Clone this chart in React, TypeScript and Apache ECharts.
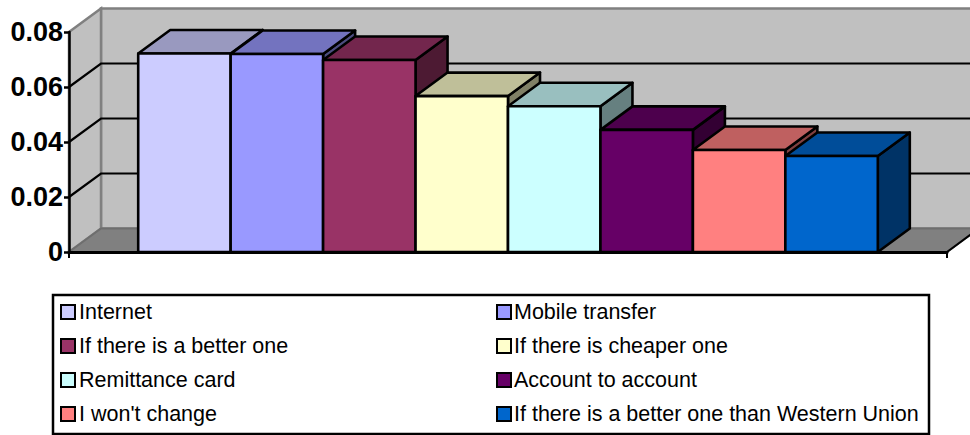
import React, { useEffect, useRef } from "react";
import * as echarts from "echarts";

const categories = ["Share of respondents"];
const seriesNames = [
  "Internet",
  "Mobile transfer",
  "If there is a better one",
  "If there is cheaper one",
  "Remittance card",
  "Account to account",
  "I won't change",
  "If there is a better one than Western Union",
];
const seriesValues = [0.0722, 0.072, 0.0698, 0.0567, 0.053, 0.0444, 0.0371, 0.0349];
const frontColors = ["#CCCCFF", "#9999FF", "#993366", "#FFFFCC", "#CCFFFF", "#660066", "#FF8080", "#0066CC"];
const topColors = ["#9999BF", "#7373BF", "#73264D", "#BFBF99", "#99BFBF", "#4D004D", "#BF6060", "#004D99"];
const sideColors = ["#666680", "#4D4D80", "#4D1A33", "#808066", "#668080", "#330033", "#804040", "#003366"];
const yTicks = [0, 0.02, 0.04, 0.06, 0.08];

const FONT = '"Liberation Sans", Arial, sans-serif';
const DEPTH_X = 32;
const DEPTH_Y = -23.5;
const BAR_WIDTH_RATIO = 92.45 / 878;

// Back wall, side wall and floor of the 3D box, with gridlines on both walls.
const renderWalls = (_: any, api: any) => {
  const centre = api.coord([0, 0]);
  const band = api.size([1, 0])[0];
  const l = centre[0] - band / 2;
  const r = centre[0] + band / 2;
  const b = centre[1];
  const t = api.coord([0, yTicks[yTicks.length - 1]])[1];
  const wall = { fill: "#C0C0C0", stroke: "#808080", lineWidth: 2.5 };
  const children: any[] = [
    {
      type: "polygon",
      shape: { points: [[l + DEPTH_X, t + DEPTH_Y], [r + DEPTH_X, t + DEPTH_Y], [r + DEPTH_X, b + DEPTH_Y], [l + DEPTH_X, b + DEPTH_Y]] },
      style: wall,
    },
    {
      type: "polygon",
      shape: { points: [[l, t], [l + DEPTH_X, t + DEPTH_Y], [l + DEPTH_X, b + DEPTH_Y], [l, b]] },
      style: wall,
    },
    {
      type: "polygon",
      shape: { points: [[l, b], [l + DEPTH_X, b + DEPTH_Y], [r + DEPTH_X, b + DEPTH_Y], [r, b]] },
      style: { fill: "#808080", stroke: "#6E6E6E", lineWidth: 2 },
    },
    {
      type: "line",
      shape: { x1: r, y1: b, x2: r + DEPTH_X, y2: b + DEPTH_Y },
      style: { stroke: "#000", lineWidth: 2 },
    },
  ];
  yTicks.slice(1, -1).forEach((tick) => {
    const y = api.coord([0, tick])[1];
    children.push({
      type: "polyline",
      shape: { points: [[l, y], [l + DEPTH_X, y + DEPTH_Y], [r + DEPTH_X, y + DEPTH_Y]] },
      style: { fill: "none", stroke: "#000", lineWidth: 2.2 },
    });
  });
  return { type: "group", children };
};

// One extruded column: front face, top face and right side face.
const renderColumn = (index: number) => (_: any, api: any) => {
  const top = api.coord([0, api.value(1)]);
  const base = api.coord([0, 0]);
  const band = api.size([1, 0])[0];
  const w = band * BAR_WIDTH_RATIO;
  const x0 = top[0] - (w * seriesValues.length) / 2 + index * w;
  const x1 = x0 + w;
  const y0 = top[1];
  const y1 = base[1];
  const edge = { stroke: "#000", lineWidth: 2.6, lineJoin: "round" };
  return {
    type: "group",
    children: [
      {
        type: "polygon",
        shape: { points: [[x1, y0], [x1 + DEPTH_X, y0 + DEPTH_Y], [x1 + DEPTH_X, y1 + DEPTH_Y], [x1, y1]] },
        style: { fill: sideColors[index], ...edge },
      },
      {
        type: "polygon",
        shape: { points: [[x0, y0], [x0 + DEPTH_X, y0 + DEPTH_Y], [x1 + DEPTH_X, y0 + DEPTH_Y], [x1, y0]] },
        style: { fill: topColors[index], ...edge },
      },
      {
        type: "polygon",
        shape: { points: [[x0, y0], [x1, y0], [x1, y1], [x0, y1]] },
        style: { fill: frontColors[index], ...edge },
      },
    ],
  };
};

const legendColumn = (left: number, offset: number, textShift: number) => ({
  orient: "vertical" as const,
  left,
  top: 300,
  itemWidth: 14,
  itemHeight: 14,
  itemGap: 10,
  icon: "rect",
  padding: 0,
  selectedMode: false,
  textStyle: { fontFamily: FONT, fontSize: 21.5, color: "#000", padding: [0, 0, 0, textShift], lineHeight: 24 },
  data: seriesNames.filter((_, i) => i % 2 === offset),
});

export default function App() {
  const ref = useRef<HTMLDivElement>(null);

  useEffect(() => {
    const chart = echarts.init(ref.current!, undefined, { renderer: "svg" });
    chart.setOption({
      animation: false,
      backgroundColor: "#fff",
      grid: { left: 69, right: 23, top: 32, bottom: 183 },
      xAxis: {
        type: "category",
        data: categories,
        z: 5,
        axisLabel: { show: false },
        axisLine: { lineStyle: { color: "#000", width: 3 } },
        axisTick: { show: true, length: 6, lineStyle: { color: "#000", width: 2 } },
      },
      yAxis: {
        type: "value",
        min: 0,
        max: 0.08,
        interval: 0.02,
        z: 5,
        splitLine: { show: false },
        axisLine: { show: true, lineStyle: { color: "#000", width: 2.5 } },
        axisTick: { show: true, length: 5, lineStyle: { color: "#000", width: 2.5 } },
        axisLabel: { fontFamily: FONT, fontSize: 27, fontWeight: "bold", color: "#000", margin: 6 },
      },
      legend: [legendColumn(60, 0, -1), legendColumn(496, 1, -2)],
      graphic: [
        {
          type: "rect",
          z: -1,
          shape: { x: 53, y: 295, width: 876, height: 139 },
          style: { fill: "#fff", stroke: "#000", lineWidth: 2.5 },
        },
      ],
      series: [
        {
          type: "custom",
          name: "Walls",
          silent: true,
          renderItem: renderWalls,
          data: [[0, 0]],
          encode: { x: 0, y: 1 },
        },
        ...seriesNames.map((name, i) => ({
          type: "custom",
          name,
          silent: true,
          renderItem: renderColumn(i),
          data: [[0, seriesValues[i]]],
          encode: { x: 0, y: 1 },
          itemStyle: { color: frontColors[i], borderColor: "#000", borderWidth: 2.5 },
        })),
      ],
    });
    return () => chart.dispose();
  }, []);

  return <div ref={ref} style={{ position: "absolute", left: 0, top: 0, width: 970, height: 435 }} />;
}
